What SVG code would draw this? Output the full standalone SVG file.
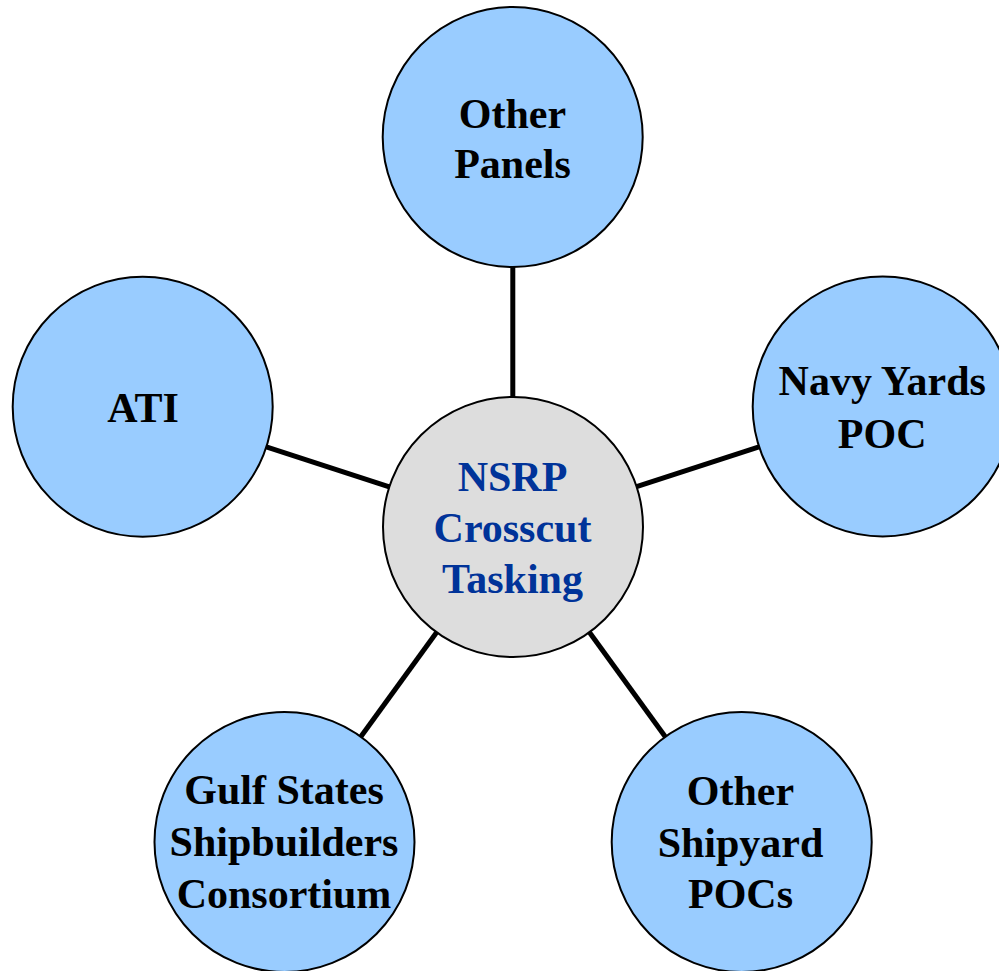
<svg xmlns="http://www.w3.org/2000/svg" width="999" height="971" viewBox="0 0 999 971">
<style>
.node{fill:#99CCFF;stroke:#000;stroke-width:2}
.hub{fill:#DDDDDD;stroke:#000;stroke-width:2}
.lbl{font-family:"Liberation Serif","Times New Roman",serif;font-weight:bold;font-size:42px;fill:#000;text-anchor:middle}
.hubl{fill:#003399}
.edge{stroke:#000;stroke-width:5;fill:none}
</style>
<rect width="999" height="971" fill="#fff"/>
<g id="connectors">
<line class="edge" x1="512.8" y1="267" x2="512.8" y2="397"/>
<line class="edge" x1="266.3" y1="446.9" x2="389.3" y2="486.9"/>
<line class="edge" x1="636.6" y1="486.7" x2="759" y2="446.8"/>
<line class="edge" x1="436.7" y1="632.2" x2="360.8" y2="736.8"/>
<line class="edge" x1="589.4" y1="632.2" x2="665.3" y2="736.8"/>
</g>
<g id="other-panels">
<circle class="node" cx="512.7" cy="137" r="130"/>
<text class="lbl" x="512.5" y="128">Other</text>
<text class="lbl" x="512.5" y="178">Panels</text>
</g>
<g id="nsrp">
<circle class="hub" cx="513" cy="527" r="130"/>
<text class="lbl hubl" x="512.5" y="491">NSRP</text>
<text class="lbl hubl" x="512.5" y="542">Crosscut</text>
<text class="lbl hubl" x="512.5" y="593">Tasking</text>
</g>
<g id="ati">
<circle class="node" cx="142.7" cy="406.7" r="130"/>
<text class="lbl" x="143" y="421.5">ATI</text>
</g>
<g id="navy-yards">
<circle class="node" cx="882.7" cy="406.5" r="130"/>
<text class="lbl" x="882.2" y="395">Navy Yards</text>
<text class="lbl" x="882.2" y="447.5">POC</text>
</g>
<g id="gulf-states">
<circle class="node" cx="284.5" cy="842" r="130"/>
<text class="lbl" x="284" y="803.5">Gulf States</text>
<text class="lbl" x="284" y="856">Shipbuilders</text>
<text class="lbl" x="284" y="907.5">Consortium</text>
</g>
<g id="other-shipyard">
<circle class="node" cx="741.7" cy="842" r="130"/>
<text class="lbl" x="740.5" y="805">Other</text>
<text class="lbl" x="740.5" y="856.5">Shipyard</text>
<text class="lbl" x="740.5" y="908">POCs</text>
</g>
</svg>
